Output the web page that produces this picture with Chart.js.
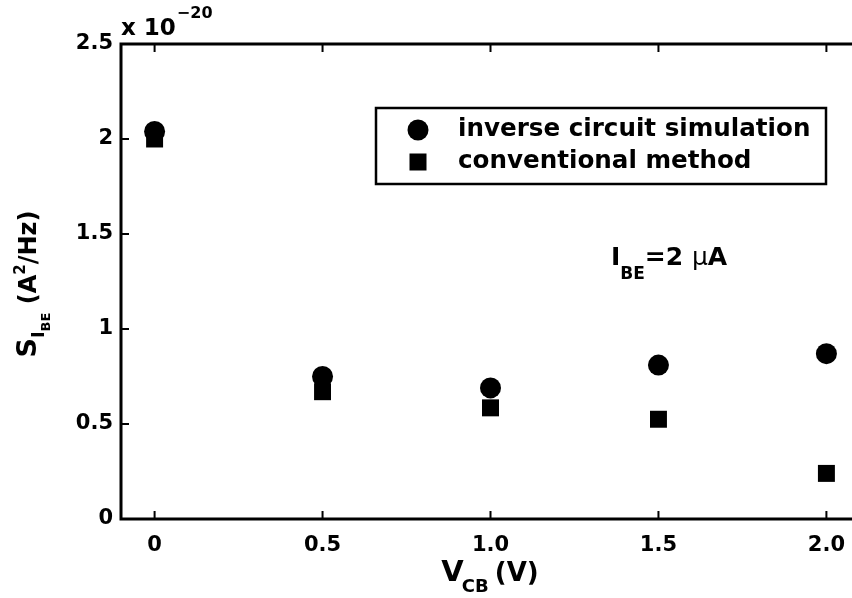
<!DOCTYPE html>
<html>
<head>
<meta charset="utf-8">
<script src="https://cdn.jsdelivr.net/npm/chart.js@4.4.1/dist/chart.umd.min.js"></script>
<style>
html, body { margin: 0; padding: 0; background: #fff; overflow: hidden; }
#wrap { width: 880px; height: 598px; }
</style>
</head>
<body>
<div id="wrap"><canvas id="chart" width="880" height="598"></canvas></div>
<script>
// data (y in units of 1e-20 A^2/Hz)
const vcb = [0, 0.5, 1.0, 1.5, 2.0];
const inverseSim = [2.04, 0.75, 0.69, 0.81, 0.87];
const conventional = [2.0, 0.67, 0.585, 0.525, 0.24];
const seriesNames = ['inverse circuit simulation', 'conventional method'];
const xTicks = [0, 0.5, 1.0, 1.5, 2.0];
const xTickLabels = ['0', '0.5', '1.0', '1.5', '2.0'];
const yTicks = [0, 0.5, 1, 1.5, 2, 2.5];
const yTickLabels = ['0', '0.5', '1', '1.5', '2', '2.5'];

const FONT = 'DejaVu Sans';

function fnt(size, weight) {
    return (weight || 'bold') + ' ' + size + 'px "' + FONT + '"';
}

// draws pieces of text one after another, each with own size and vertical shift
function drawRich(ctx, parts, x, y, align) {
    let total = 0;
    parts.forEach(p => {
        ctx.font = fnt(p.size, p.weight);
        p.w = ctx.measureText(p.t).width + (p.gap || 0);
        total += p.w;
    });
    let cx = x;
    if (align === 'center') cx = x - total / 2;
    ctx.textAlign = 'left';
    ctx.textBaseline = 'alphabetic';
    parts.forEach(p => {
        ctx.font = fnt(p.size, p.weight);
        ctx.fillText(p.t, cx + (p.gap || 0), y + (p.dy || 0));
        cx += p.w;
    });
}

const decorPlugin = {
    id: 'decor',
    afterDraw(chart) {
        const ctx = chart.ctx;
        const a = chart.chartArea;
        const xs = chart.scales.x;
        const ys = chart.scales.y;
        ctx.save();
        ctx.strokeStyle = '#000';
        ctx.fillStyle = '#000';

        // axes box
        ctx.lineWidth = 3;
        ctx.beginPath();
        ctx.rect(a.left, a.top, a.right - a.left, a.bottom - a.top);
        ctx.stroke();

        // inward ticks
        ctx.lineWidth = 2;
        ctx.beginPath();
        xTicks.forEach(v => {
            const px = xs.getPixelForValue(v);
            ctx.moveTo(px, a.bottom); ctx.lineTo(px, a.bottom - 8);
            ctx.moveTo(px, a.top); ctx.lineTo(px, a.top + 8);
        });
        yTicks.forEach(v => {
            const py = ys.getPixelForValue(v);
            ctx.moveTo(a.left, py); ctx.lineTo(a.left + 8, py);
            ctx.moveTo(a.right, py); ctx.lineTo(a.right - 8, py);
        });
        ctx.stroke();

        // exponent
        drawRich(ctx, [
            {t: 'x 10', size: 23},
            {t: '\u221220', size: 16, dy: -17, gap: 1}
        ], 121, 35, 'left');

        // x title
        drawRich(ctx, [
            {t: 'V', size: 29},
            {t: 'CB', size: 18, dy: 11, gap: -2},
            {t: '(V)', size: 26, gap: 6}
        ], 490, 581, 'center');

        // y title (rotated)
        ctx.save();
        ctx.translate(36, 284);
        ctx.rotate(-Math.PI / 2);
        drawRich(ctx, [
            {t: 'S', size: 27},
            {t: 'I', size: 18, dy: 8},
            {t: 'BE', size: 13, dy: 14},
            {t: ' (A', size: 24},
            {t: '2', size: 15, dy: -11},
            {t: '/Hz)', size: 24}
        ], 0, 0, 'center');
        ctx.restore();

        // annotation
        drawRich(ctx, [
            {t: 'I', size: 25},
            {t: 'BE', size: 17, dy: 14},
            {t: '=2 ', size: 25},
            {t: '\u03bc', size: 25, weight: 'normal'},
            {t: 'A', size: 25}
        ], 611, 265, 'left');

        // legend
        ctx.lineWidth = 2.5;
        ctx.fillStyle = '#fff';
        ctx.fillRect(376, 108, 450, 76);
        ctx.strokeRect(376, 108, 450, 76);
        ctx.fillStyle = '#000';
        const rows = [130, 162];
        chart.data.datasets.forEach((ds, i) => {
            const cy = rows[i];
            if (ds.pointStyle === 'circle') {
                ctx.beginPath();
                ctx.arc(418, cy, 10.5, 0, Math.PI * 2);
                ctx.fill();
            } else {
                ctx.fillRect(418 - 8.5, cy - 8.5, 17, 17);
            }
            ctx.font = fnt(24.6);
            ctx.textAlign = 'left';
            ctx.textBaseline = 'middle';
            ctx.fillText(ds.label, 458, cy);
        });

        ctx.restore();
    }
};

const tickFont = {family: FONT, weight: 'bold', size: 21};

new Chart(document.getElementById('chart'), {
    type: 'scatter',
    data: {
        datasets: [
            {
                label: seriesNames[0],
                data: vcb.map((x, i) => ({x: x, y: inverseSim[i]})),
                pointStyle: 'circle',
                pointRadius: 10.5,
                pointHoverRadius: 10.5,
                backgroundColor: '#000',
                borderWidth: 0
            },
            {
                label: seriesNames[1],
                data: vcb.map((x, i) => ({x: x, y: conventional[i]})),
                pointStyle: 'rect',
                pointRadius: 12,
                pointHoverRadius: 12,
                backgroundColor: '#000',
                borderWidth: 0
            }
        ]
    },
    options: {
        responsive: false,
        animation: false,
        devicePixelRatio: 1,
        layout: {padding: {top: 44, right: 20, left: 0, bottom: 0}},
        plugins: {legend: {display: false}, tooltip: {enabled: false}},
        scales: {
            x: {
                type: 'linear',
                min: -0.1,
                max: 2.1,
                afterBuildTicks: s => { s.ticks = xTicks.map(v => ({value: v})); },
                afterFit: s => { s.height = 79; },
                grid: {display: false, drawTicks: false},
                border: {display: false},
                ticks: {
                    padding: 14,
                    color: '#000',
                    font: tickFont,
                    maxRotation: 0,
                    callback: (v, i) => xTickLabels[i]
                }
            },
            y: {
                type: 'linear',
                min: 0,
                max: 2.5,
                afterBuildTicks: s => { s.ticks = yTicks.map(v => ({value: v})); },
                afterFit: s => { s.width = 121; },
                grid: {display: false, drawTicks: false},
                border: {display: false},
                ticks: {
                    padding: 8,
                    color: '#000',
                    font: tickFont,
                    callback: (v, i) => yTickLabels[i]
                }
            }
        }
    },
    plugins: [decorPlugin]
});
</script>
</body>
</html>
